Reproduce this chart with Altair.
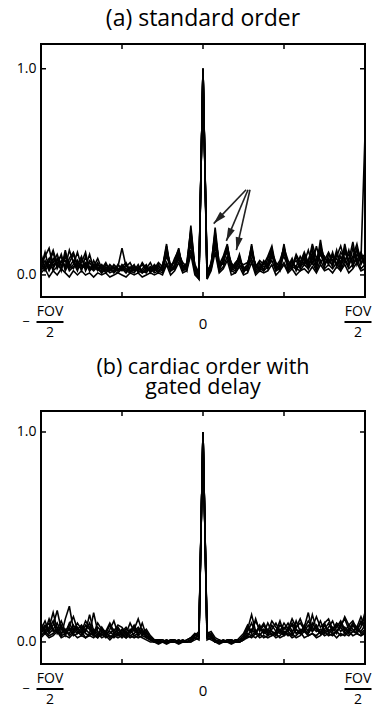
import math
import altair as alt
import pandas as pd

FONT = "Open Sans"

# sample positions across the field of view, in units of FOV (-FOV/2 .. FOV/2)
X_POS = [round(-0.5 + i / 80, 4) for i in range(81)]

# (a) standard order: normalised profiles, one list per repetition
A1 = [0.05, 0.09, 0.13, 0.04, 0.08, 0.02, 0.10, 0.05, 0.03, 0.07,
      0.02, 0.09, 0.03, 0.05, 0.02, 0.04, 0.01, 0.03, 0.02, 0.05,
      0.03, 0.01, 0.04, 0.02, 0.05, 0.01, 0.03, 0.06, 0.02, 0.04,
      0.03, 0.14, 0.02, 0.05, 0.12, 0.03, 0.06, 0.22, 0.04, 0.00,
      1.00,
      0.01, 0.05, 0.21, 0.04, 0.06, 0.13, 0.03, 0.02, 0.08, 0.03,
      0.05, 0.14, 0.02, 0.04, 0.03, 0.06, 0.12, 0.03, 0.05, 0.14,
      0.02, 0.07, 0.03, 0.05, 0.08, 0.03, 0.11, 0.04, 0.17, 0.05,
      0.08, 0.04, 0.10, 0.06, 0.13, 0.05, 0.09, 0.15, 0.06, 0.08]
A2 = [0.08, 0.04, 0.06, 0.11, 0.03, 0.07, 0.04, 0.12, 0.06, 0.02,
      0.08, 0.04, 0.10, 0.03, 0.06, 0.02, 0.05, 0.03, 0.01, 0.04,
      0.13, 0.04, 0.06, 0.02, 0.03, 0.05, 0.02, 0.04, 0.03, 0.01,
      0.05, 0.11, 0.03, 0.07, 0.13, 0.02, 0.05, 0.18, 0.03, -0.01,
      1.00,
      0.02, 0.04, 0.23, 0.05, 0.09, 0.15, 0.02, 0.05, 0.09, 0.01,
      0.04, 0.11, 0.05, 0.02, 0.06, 0.03, 0.09, 0.05, 0.02, 0.11,
      0.06, 0.03, 0.09, 0.04, 0.06, 0.12, 0.05, 0.14, 0.06, 0.09,
      0.05, 0.11, 0.04, 0.09, 0.06, 0.12, 0.04, 0.10, 0.07, 0.68]
A3 = [0.03, 0.07, 0.02, 0.06, 0.10, 0.04, 0.09, 0.03, 0.05, 0.11,
      0.04, 0.06, 0.02, 0.07, 0.03, 0.01, 0.04, 0.02, 0.05, 0.03,
      0.02, 0.05, 0.01, 0.04, 0.02, 0.06, 0.03, 0.02, 0.05, 0.03,
      0.02, 0.09, 0.04, 0.03, 0.10, 0.06, 0.04, 0.15, 0.05, 0.01,
      1.00,
      0.00, 0.06, 0.17, 0.03, 0.07, 0.12, 0.04, 0.03, 0.07, 0.04,
      0.02, 0.12, 0.04, 0.06, 0.02, 0.08, 0.13, 0.02, 0.06, 0.09,
      0.04, 0.08, 0.02, 0.06, 0.10, 0.04, 0.08, 0.03, 0.12, 0.04,
      0.10, 0.06, 0.08, 0.03, 0.11, 0.07, 0.16, 0.05, 0.10, 0.04]
A4 = [0.06, 0.02, 0.05, 0.03, 0.07, 0.09, 0.02, 0.06, 0.10, 0.04,
      0.06, 0.11, 0.02, 0.04, 0.08, 0.03, 0.02, 0.05, 0.03, 0.02,
      0.04, 0.02, 0.03, 0.05, 0.01, 0.03, 0.05, 0.01, 0.04, 0.02,
      0.04, 0.15, 0.02, 0.04, 0.11, 0.04, 0.03, 0.20, 0.02, 0.00,
      1.00,
      0.01, 0.03, 0.19, 0.06, 0.05, 0.14, 0.05, 0.04, 0.10, 0.02,
      0.03, 0.15, 0.03, 0.05, 0.04, 0.05, 0.10, 0.04, 0.03, 0.12,
      0.05, 0.06, 0.04, 0.09, 0.05, 0.07, 0.13, 0.05, 0.10, 0.06,
      0.07, 0.05, 0.12, 0.04, 0.15, 0.06, 0.08, 0.12, 0.05, 0.09]
A5 = [0.02, 0.05, 0.08, 0.02, 0.04, 0.06, 0.07, 0.02, 0.04, 0.05,
      0.03, 0.05, 0.04, 0.02, 0.04, 0.01, 0.03, 0.01, 0.02, 0.01,
      0.03, 0.02, 0.01, 0.03, 0.02, 0.01, 0.02, 0.03, 0.01, 0.02,
      0.01, 0.06, 0.02, 0.03, 0.08, 0.02, 0.03, 0.12, 0.02, -0.01,
      1.00,
      -0.01, 0.03, 0.14, 0.02, 0.04, 0.09, 0.02, 0.01, 0.05, 0.02,
      0.03, 0.08, 0.01, 0.03, 0.02, 0.04, 0.07, 0.02, 0.03, 0.06,
      0.02, 0.04, 0.03, 0.02, 0.05, 0.03, 0.06, 0.02, 0.07, 0.03,
      0.05, 0.03, 0.06, 0.02, 0.07, 0.03, 0.05, 0.08, 0.03, 0.05]
A6 = [0.04, 0.11, 0.03, 0.08, 0.05, 0.03, 0.12, 0.04, 0.07, 0.03,
      0.05, 0.03, 0.07, 0.05, 0.03, 0.05, 0.02, 0.04, 0.03, 0.02,
      0.05, 0.03, 0.02, 0.01, 0.04, 0.02, 0.01, 0.04, 0.02, 0.05,
      0.02, 0.12, 0.05, 0.06, 0.09, 0.05, 0.02, 0.24, 0.03, 0.01,
      1.00,
      0.02, 0.05, 0.16, 0.02, 0.08, 0.11, 0.06, 0.03, 0.06, 0.05,
      0.06, 0.10, 0.05, 0.03, 0.07, 0.04, 0.11, 0.06, 0.04, 0.15,
      0.03, 0.05, 0.07, 0.03, 0.09, 0.05, 0.09, 0.07, 0.14, 0.08,
      0.06, 0.09, 0.05, 0.11, 0.08, 0.04, 0.13, 0.07, 0.11, 0.06]
A7 = [0.10, 0.03, 0.07, 0.12, 0.05, 0.10, 0.03, 0.08, 0.11, 0.05,
      0.09, 0.02, 0.06, 0.03, 0.05, 0.03, 0.06, 0.02, 0.04, 0.02,
      0.04, 0.06, 0.02, 0.04, 0.03, 0.02, 0.04, 0.02, 0.03, 0.06,
      0.04, 0.13, 0.03, 0.08, 0.12, 0.04, 0.05, 0.21, 0.01, -0.02,
      1.00,
      -0.02, 0.04, 0.20, 0.03, 0.07, 0.14, 0.03, 0.06, 0.08, 0.02,
      0.05, 0.13, 0.04, 0.07, 0.05, 0.09, 0.14, 0.04, 0.07, 0.13,
      0.07, 0.04, 0.10, 0.06, 0.11, 0.06, 0.15, 0.08, 0.12, 0.07,
      0.11, 0.07, 0.09, 0.14, 0.07, 0.10, 0.06, 0.13, 0.08, 0.10]
A8 = [0.01, 0.03, -0.01, 0.02, 0.00, 0.03, 0.01, -0.01, 0.02, 0.00,
      0.02, 0.00, 0.01, -0.01, 0.01, 0.00, 0.01, -0.01, 0.00, 0.01,
      0.00, -0.01, 0.01, 0.00, 0.01, -0.01, 0.00, 0.01, 0.00, 0.01,
      0.00, 0.05, 0.00, 0.02, 0.06, 0.01, 0.02, 0.10, 0.00, -0.02,
      1.00,
      -0.02, 0.02, 0.11, 0.01, 0.03, 0.07, 0.00, 0.01, 0.04, 0.00,
      0.01, 0.06, 0.00, 0.02, 0.01, 0.02, 0.05, 0.00, 0.02, 0.05,
      0.01, 0.03, 0.00, 0.02, 0.03, 0.01, 0.04, 0.01, 0.05, 0.02,
      0.03, 0.01, 0.04, 0.02, 0.05, 0.01, 0.03, 0.06, 0.02, 0.03]

# (b) cardiac order with gated delay
B1 = [0.06, 0.10, 0.05, 0.08, 0.15, 0.06, 0.04, 0.09, 0.05, 0.07,
      0.04, 0.08, 0.06, 0.03, 0.07, 0.05, 0.03, 0.06, 0.10, 0.04,
      0.06, 0.03, 0.05, 0.08, 0.04, 0.09, 0.03, 0.02, 0.01, 0.00,
      0.00, 0.01, 0.00, 0.00, 0.01, 0.00, 0.01, 0.02, 0.04, 0.02,
      1.00,
      0.03, 0.04, 0.01, 0.00, 0.01, 0.00, 0.00, 0.01, 0.00, 0.02,
      0.05, 0.09, 0.04, 0.07, 0.05, 0.03, 0.08, 0.05, 0.04, 0.07,
      0.05, 0.09, 0.06, 0.04, 0.08, 0.05, 0.13, 0.06, 0.04, 0.08,
      0.05, 0.07, 0.04, 0.09, 0.05, 0.08, 0.06, 0.04, 0.07, 0.14]
B2 = [0.04, 0.07, 0.09, 0.05, 0.06, 0.03, 0.11, 0.17, 0.06, 0.04,
      0.07, 0.05, 0.09, 0.04, 0.02, 0.05, 0.03, 0.04, 0.06, 0.03,
      0.05, 0.07, 0.04, 0.06, 0.11, 0.05, 0.02, 0.01, 0.00, 0.01,
      0.01, 0.00, 0.00, 0.01, 0.00, 0.00, 0.00, 0.01, 0.03, 0.04,
      1.00,
      0.04, 0.02, 0.00, 0.01, 0.00, 0.00, 0.01, 0.00, 0.01, 0.03,
      0.07, 0.04, 0.11, 0.05, 0.08, 0.04, 0.06, 0.09, 0.05, 0.03,
      0.07, 0.04, 0.10, 0.05, 0.07, 0.14, 0.05, 0.08, 0.04, 0.06,
      0.09, 0.05, 0.07, 0.10, 0.06, 0.04, 0.08, 0.05, 0.10, 0.06]
B3 = [0.08, 0.04, 0.06, 0.10, 0.04, 0.07, 0.05, 0.04, 0.08, 0.05,
      0.03, 0.06, 0.04, 0.14, 0.05, 0.03, 0.05, 0.02, 0.04, 0.06,
      0.03, 0.05, 0.03, 0.04, 0.06, 0.03, 0.05, 0.02, 0.01, 0.00,
      0.00, 0.00, 0.01, 0.00, 0.00, 0.01, 0.00, 0.01, 0.02, 0.03,
      1.00,
      0.02, 0.03, 0.01, 0.00, 0.00, 0.01, 0.00, 0.00, 0.00, 0.01,
      0.03, 0.06, 0.04, 0.08, 0.04, 0.06, 0.03, 0.05, 0.10, 0.04,
      0.06, 0.08, 0.04, 0.06, 0.05, 0.08, 0.05, 0.07, 0.04, 0.09,
      0.04, 0.06, 0.08, 0.05, 0.07, 0.05, 0.08, 0.06, 0.05, 0.08]
B4 = [0.05, 0.08, 0.04, 0.06, 0.09, 0.04, 0.06, 0.03, 0.05, 0.09,
      0.06, 0.04, 0.03, 0.06, 0.04, 0.06, 0.04, 0.08, 0.04, 0.03,
      0.04, 0.02, 0.06, 0.03, 0.04, 0.06, 0.03, 0.01, 0.00, 0.00,
      0.00, 0.00, 0.00, 0.00, 0.01, 0.00, 0.00, 0.01, 0.02, 0.01,
      1.00,
      0.01, 0.02, 0.00, 0.00, 0.00, 0.00, 0.01, 0.00, 0.00, 0.01,
      0.04, 0.03, 0.05, 0.03, 0.06, 0.04, 0.05, 0.03, 0.06, 0.04,
      0.05, 0.03, 0.06, 0.04, 0.06, 0.04, 0.07, 0.05, 0.06, 0.04,
      0.06, 0.04, 0.05, 0.07, 0.04, 0.06, 0.05, 0.07, 0.04, 0.06]
B5 = [0.03, 0.05, 0.03, 0.04, 0.06, 0.03, 0.04, 0.06, 0.03, 0.04,
      0.05, 0.02, 0.04, 0.03, 0.02, 0.04, 0.02, 0.03, 0.02, 0.04,
      0.02, 0.04, 0.02, 0.03, 0.02, 0.03, 0.02, 0.01, 0.00, 0.00,
      0.00, 0.00, 0.00, 0.00, 0.00, 0.00, 0.00, 0.00, 0.01, 0.02,
      1.00,
      0.02, 0.01, 0.00, 0.00, 0.00, 0.00, 0.00, 0.00, 0.00, 0.01,
      0.02, 0.03, 0.02, 0.04, 0.02, 0.03, 0.04, 0.02, 0.03, 0.05,
      0.03, 0.04, 0.02, 0.03, 0.05, 0.03, 0.04, 0.03, 0.05, 0.03,
      0.04, 0.03, 0.05, 0.03, 0.04, 0.03, 0.05, 0.04, 0.03, 0.04]
B6 = [0.07, 0.05, 0.11, 0.06, 0.05, 0.08, 0.03, 0.07, 0.04, 0.06,
      0.08, 0.05, 0.13, 0.05, 0.03, 0.07, 0.04, 0.05, 0.03, 0.07,
      0.04, 0.06, 0.05, 0.07, 0.03, 0.05, 0.04, 0.02, 0.00, 0.01,
      0.00, 0.01, 0.00, 0.00, 0.00, 0.01, 0.00, 0.01, 0.03, 0.05,
      1.00,
      0.05, 0.03, 0.01, 0.00, 0.01, 0.00, 0.00, 0.01, 0.01, 0.02,
      0.06, 0.13, 0.05, 0.07, 0.04, 0.09, 0.05, 0.04, 0.08, 0.06,
      0.09, 0.05, 0.07, 0.11, 0.06, 0.04, 0.09, 0.06, 0.10, 0.05,
      0.07, 0.10, 0.05, 0.08, 0.11, 0.06, 0.09, 0.07, 0.12, 0.07]
B7 = [0.09, 0.05, 0.07, 0.14, 0.06, 0.10, 0.05, 0.08, 0.12, 0.06,
      0.05, 0.10, 0.07, 0.04, 0.09, 0.06, 0.05, 0.09, 0.05, 0.08,
      0.07, 0.04, 0.09, 0.05, 0.07, 0.04, 0.06, 0.03, 0.01, 0.01,
      0.01, 0.00, 0.01, 0.01, 0.00, 0.00, 0.01, 0.02, 0.04, 0.03,
      1.00,
      0.04, 0.05, 0.02, 0.01, 0.00, 0.01, 0.01, 0.00, 0.02, 0.04,
      0.08, 0.05, 0.10, 0.06, 0.09, 0.05, 0.10, 0.07, 0.05, 0.09,
      0.06, 0.11, 0.07, 0.09, 0.06, 0.10, 0.07, 0.12, 0.07, 0.09,
      0.11, 0.06, 0.09, 0.07, 0.12, 0.08, 0.10, 0.06, 0.09, 0.11]
B8 = [0.02, 0.04, 0.02, 0.03, 0.05, 0.02, 0.03, 0.02, 0.04, 0.02,
      0.03, 0.02, 0.03, 0.02, 0.04, 0.02, 0.03, 0.01, 0.03, 0.02,
      0.03, 0.02, 0.03, 0.02, 0.03, 0.02, 0.01, 0.00, 0.00, -0.01,
      0.00, -0.01, 0.00, 0.00, -0.01, 0.00, 0.00, 0.00, 0.02, 0.03,
      1.00,
      0.03, 0.02, 0.00, -0.01, 0.00, 0.00, -0.01, 0.00, 0.00, 0.01,
      0.03, 0.02, 0.04, 0.02, 0.03, 0.02, 0.03, 0.04, 0.02, 0.03,
      0.04, 0.02, 0.03, 0.05, 0.02, 0.03, 0.04, 0.02, 0.03, 0.05,
      0.03, 0.04, 0.02, 0.04, 0.03, 0.05, 0.03, 0.04, 0.03, 0.05]

PANEL_A = [A1, A2, A3, A4, A5, A6, A7, A8]
PANEL_B = [B1, B2, B3, B4, B5, B6, B7, B8]

TITLE_A = "(a) standard order"
TITLE_B = ["(b) cardiac order with", "gated delay"]

Y_TICKS = [0.0, 1.0]
X_MINOR = [-0.25, 0.0, 0.25]
X_EDGES = [-0.5, 0.5]
FOV_NUM = "FOV"
FOV_DEN = "2"
CENTER_LABEL = "0"
MINUS = "\u2212"

# arrows pointing at the ghost peaks in (a): tail -> tip, in data units
ARROW_TAIL_X = [0.133, 0.139, 0.145]
ARROW_TAIL_Y = [0.413, 0.413, 0.413]
ARROW_TIP_X = [0.033, 0.072, 0.103]
ARROW_TIP_Y = [0.249, 0.165, 0.120]

W, H = 324, 253
TICK_PX = 5
Y_DOM_A = [-0.107, 1.12]
Y_DOM_B = [-0.105, 1.10]


def profile_panel(series, ydom, title, title_size, arrows=False):
    rows = [{"x": x, "v": v, "s": k}
            for k, ser in enumerate(series) for x, v in zip(X_POS, ser)]
    prof = pd.DataFrame(rows)

    xs = alt.Scale(domain=X_EDGES, nice=False, zero=False)
    ys = alt.Scale(domain=ydom, nice=False, zero=False)
    yaxis = alt.Axis(values=Y_TICKS, format=".1f", ticks=False, domain=False,
                     grid=False, labelFontSize=14, labelFont=FONT,
                     labelColor="black", labelPadding=5, title=None)

    def X(f):
        return alt.X(f, scale=xs, axis=None)

    def Y(f):
        return alt.Y(f, scale=ys, axis=yaxis)

    # data units per pixel, for tick lengths
    ux = (X_EDGES[1] - X_EDGES[0]) / W
    uy = (ydom[1] - ydom[0]) / H
    lo, hi = ydom
    xl, xr = X_EDGES

    lines = alt.Chart(prof).mark_line(
        color="black", strokeWidth=1.6, clip=True
    ).encode(x=X("x:Q"), y=Y("v:Q"), detail="s:N")

    # plot frame drawn as filled bars along the four edges
    h_edges = pd.DataFrame({"x": [0.0, 0.0], "y": [lo, hi]})
    frame_h = alt.Chart(h_edges).mark_tick(
        orient="horizontal", size=W + 2, thickness=2, color="black", opacity=1
    ).encode(x=X("x:Q"), y=Y("y:Q"))
    v_edges = pd.DataFrame({"x": X_EDGES, "y": [(lo + hi) / 2] * 2})
    frame_v = alt.Chart(v_edges).mark_tick(
        orient="vertical", size=H + 2, thickness=2, color="black", opacity=1
    ).encode(x=X("x:Q"), y=Y("y:Q"))

    # short inward ticks on all four sides
    half = TICK_PX / 2
    xt_df = pd.DataFrame({
        "x": X_MINOR * 2,
        "y": [lo + half * uy] * len(X_MINOR) + [hi - half * uy] * len(X_MINOR)})
    xticks = alt.Chart(xt_df).mark_tick(
        orient="vertical", size=TICK_PX, thickness=1.5, color="black", opacity=1
    ).encode(x=X("x:Q"), y=Y("y:Q"))
    yt_df = pd.DataFrame({
        "x": [xl + half * ux] * len(Y_TICKS) + [xr - half * ux] * len(Y_TICKS),
        "y": Y_TICKS * 2})
    yticks = alt.Chart(yt_df).mark_tick(
        orient="horizontal", size=TICK_PX, thickness=1.5, color="black", opacity=1
    ).encode(x=X("x:Q"), y=Y("y:Q"))

    one = pd.DataFrame({"x": [0.0]})
    zero_lbl = alt.Chart(one).mark_text(
        text=CENTER_LABEL, font=FONT, fontSize=15, color="black",
        baseline="middle", align="center"
    ).encode(x=X("x:Q"), y=alt.value(H + 27))

    layers = [lines, xticks, yticks, frame_h, frame_v, zero_lbl]

    # -FOV/2 and FOV/2 drawn as stacked fractions at the two edges
    for xe, shift in zip(X_EDGES, [9, -7]):
        edf = pd.DataFrame({"x": [xe]})
        base = alt.Chart(edf)
        layers.append(base.mark_text(
            text=FOV_NUM, font=FONT, fontSize=14, color="black",
            baseline="middle", align="center", dx=shift
        ).encode(x=X("x:Q"), y=alt.value(H + 15)))
        layers.append(base.mark_tick(
            orient="horizontal", size=27, thickness=2, color="black",
            xOffset=shift, opacity=1
        ).encode(x=X("x:Q"), y=alt.value(H + 25)))
        layers.append(base.mark_text(
            text=FOV_DEN, font=FONT, fontSize=14, color="black",
            baseline="middle", align="center", dx=shift
        ).encode(x=X("x:Q"), y=alt.value(H + 36)))
        if xe < 0:
            layers.append(base.mark_text(
                text=MINUS, font=FONT, fontSize=13, color="black",
                baseline="middle", align="center", dx=shift - 24
            ).encode(x=X("x:Q"), y=alt.value(H + 25)))

    if arrows:
        sx = W / (X_EDGES[1] - X_EDGES[0])
        sy = H / (ydom[1] - ydom[0])
        angles = []
        for tx, ty, hx, hy in zip(ARROW_TAIL_X, ARROW_TAIL_Y, ARROW_TIP_X, ARROW_TIP_Y):
            dxp = (hx - tx) * sx
            dyp = -(hy - ty) * sy
            angles.append(math.degrees(math.atan2(dxp, -dyp)) % 360)
        adf = pd.DataFrame({"tx": ARROW_TAIL_X, "ty": ARROW_TAIL_Y,
                            "hx": ARROW_TIP_X, "hy": ARROW_TIP_Y, "ang": angles})
        shafts = alt.Chart(adf).mark_rule(color="#222", strokeWidth=1.6).encode(
            x=X("tx:Q"), y=Y("ty:Q"), x2="hx:Q", y2="hy:Q")
        heads = alt.Chart(adf).mark_point(
            shape="M0,0L0.55,2L-0.55,2Z", filled=True, color="#222",
            opacity=1, size=170, strokeWidth=0
        ).encode(x=X("hx:Q"), y=Y("hy:Q"), angle=alt.Angle("ang:Q", scale=None))
        layers += [shafts, heads]

    return alt.layer(*layers).properties(
        width=W, height=H,
        title=alt.TitleParams(title, fontSize=title_size, font=FONT,
                              fontWeight="normal", color="black",
                              anchor="middle", lineHeight=20, offset=12)
    )


panel_a = profile_panel(PANEL_A, Y_DOM_A, TITLE_A, 23, arrows=True)
panel_b = profile_panel(PANEL_B, Y_DOM_B, TITLE_B, 21.5)

chart = alt.vconcat(panel_a, panel_b, spacing=16).properties(
    padding={"left": 16, "top": 8, "right": 4, "bottom": 0}
).configure_view(strokeWidth=0)

chart.save("out.html", embed_options={"renderer": "svg", "actions": False})
